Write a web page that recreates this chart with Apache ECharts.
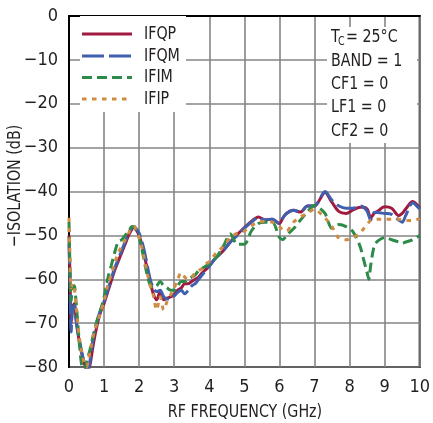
<!DOCTYPE html>
<html>
<head>
<meta charset="utf-8">
<script src="https://cdn.jsdelivr.net/npm/echarts@6/dist/echarts.min.js"></script>
<style>
html,body{margin:0;padding:0;background:#fff;}
#chart{width:433px;height:423px;}
</style>
</head>
<body>
<div id="chart"></div>
<script>
// ---- data ----
var freq = [0, 0.03, 0.06, 0.1, 0.15, 0.2, 0.25, 0.3, 0.35, 0.4, 0.45, 0.5, 0.55, 0.6, 0.7, 0.8, 0.9,
  1.0, 1.1, 1.2, 1.3, 1.4, 1.5, 1.6, 1.7, 1.8, 1.85, 1.9, 2.0, 2.1, 2.2, 2.3, 2.4, 2.5, 2.6, 2.7, 2.8, 2.9,
  3.0, 3.1, 3.2, 3.3, 3.4, 3.5, 3.6, 3.7, 3.8, 3.9, 4.0, 4.2, 4.4, 4.6, 4.8, 5.0, 5.2, 5.4, 5.6, 5.8,
  6.0, 6.1, 6.2, 6.4, 6.6, 6.8, 7.0, 7.1, 7.3, 7.5, 7.7, 7.9, 8.1, 8.3, 8.4, 8.5, 8.55, 8.6, 8.7, 8.8,
  9.0, 9.2, 9.4, 9.5, 9.6, 9.8, 10.0];

var ifqp = [-50, -60, -70, -66.5, -65.5, -69, -72, -74.5, -76.5, -78, -79.5, -80.5, -80.5, -79.5, -74.5, -70.5, -67.5,
  -65.5, -63, -60.5, -58, -56, -54, -52, -50, -48.5, -48.2, -48.5, -50, -53, -56.5, -60, -63.2, -64.7, -62.8, -64.7, -64.3, -64,
  -63.5, -62.5, -62, -61, -61, -60.5, -60, -59.5, -58.5, -57.8, -57, -55, -53.5, -51.5, -49.8, -48.2, -46.8, -45.8, -46.5, -46.3,
  -47.3, -46, -45, -44.3, -44.7, -43.3, -43.3, -42.5, -40.2, -42.5, -44.6, -45, -44.2, -43.6, -43.6, -44, -45, -46, -45, -44.5,
  -43.5, -43.8, -45.5, -45, -44, -42.3, -43.8];

var ifqm = [-52, -62, -72, -67, -66, -69, -72, -74, -76, -78, -79.5, -80.5, -80.5, -78.5, -73, -69.5, -67,
  -65, -62.5, -60, -57.5, -55.5, -53.5, -51.5, -49.5, -48.2, -48, -48.3, -49.5, -52, -55.5, -59.5, -62, -62.8, -62.5, -64, -64.5, -64.5,
  -63.8, -63, -62.5, -63.3, -62.5, -61.5, -61, -60, -59, -58, -57, -55, -53.5, -51.5, -50, -48.4, -47, -46, -46.5, -46.3,
  -47.3, -46, -45, -44.3, -44.7, -43.3, -43.3, -42.5, -40, -42, -43.3, -43.8, -43.8, -43.3, -43.6, -44.5, -45.5, -46.5, -44.8, -44.8,
  -45, -45.2, -46.5, -47, -45.5, -42.6, -44];

var ifim = [-47, -58, -65, -62, -61.5, -65, -70, -75, -79, -80.5, -80.5, -79, -77.5, -76, -72.5, -69.5, -67,
  -64, -60, -57, -54, -51.5, -51, -50, -49, -48, -48, -48.6, -50.5, -54, -58, -61, -62, -61.5, -60.5, -61.5, -62, -62.5,
  -62.5, -61.5, -60.5, -60.5, -60, -59.5, -59, -58, -57.5, -57, -56.5, -55, -52.5, -49.7, -52, -52, -49, -47.3, -47, -47,
  -50.5, -51, -50, -48.5, -46.5, -44.6, -43.2, -43.5, -45, -48.4, -47.5, -48, -49.2, -52.5, -55.5, -58.5, -60, -57, -52.5, -51.3,
  -50.5, -51, -51.5, -51.8, -51.5, -51, -50];

var ifip = [-46, -55, -62, -61, -62, -66, -70, -73.5, -76, -78, -79.5, -80, -78.5, -76.5, -72.5, -70, -67.5,
  -65, -61.5, -59, -56.5, -54, -52.5, -51, -49.5, -48, -48, -48.5, -50.5, -53.5, -57.5, -61, -63.5, -67, -64, -67, -65, -63.5,
  -62, -60, -58.5, -59.5, -60, -59.5, -58.5, -58, -57.5, -56.5, -56, -54, -52.5, -50.5, -49.5, -49, -47.8, -47, -46.8, -47,
  -48, -48.8, -49, -47, -45.8, -45, -44, -44.5, -46, -48, -50.7, -51, -50.5, -49.5, -48.5, -47.5, -47, -46.6, -46.4, -46.3,
  -46.3, -46.3, -46.3, -46.4, -46.6, -46.6, -46.2];

var seriesNames = ['IFQP', 'IFQM', 'IFIM', 'IFIP'];
var xTicks = [0, 1, 2, 3, 4, 5, 6, 7, 8, 9, 10];
var yTicks = [-80, -70, -60, -50, -40, -30, -20, -10, 0];
var notes = ['BAND = 1', 'CF1 = 0', 'LF1 = 0', 'CF2 = 0'];

// ---- styling ----
var FONT = "'Liberation Sans Narrow', 'DejaVu Sans Condensed', 'Arial Narrow', sans-serif";
var TXT = '#231f20';
var colors = ['#a01b40', '#3f5faf', '#2d8a48', '#d08c42'];
var dashes = [null, [20, 5], [10, 5], [4.5, 5.5]];
var legendDashes = [null, [22, 5], [10, 5], [4.5, 5.5]];
var values = [ifqp, ifqm, ifim, ifip];
var SX = 0.88; // narrow the available font towards the condensed original

function pairs(v) { return freq.map(function (f, i) { return [f, v[i]]; }); }
function fmtNum(v) { return v < 0 ? '\u2212' + Math.abs(v) : String(v); }

var chart = echarts.init(document.getElementById('chart'), null, { renderer: 'canvas' });

var series = seriesNames.map(function (name, k) {
  return {
    name: name,
    type: 'line',
    data: pairs(values[k]),
    showSymbol: false,
    symbol: 'none',
    smooth: 0.3,
    clip: true,
    lineStyle: { color: colors[k], width: 3, type: dashes[k] || 'solid' },
    itemStyle: { color: colors[k] },
    z: 2 + k
  };
});

function txt(x, y, s, size, extra) {
  var o = { type: 'text', x: x, y: y, scaleX: SX, z: 11,
    style: { text: s, font: size + 'px ' + FONT, fill: TXT, textVerticalAlign: 'middle' } };
  if (extra) { for (var k in extra) o[k] = extra[k]; }
  return o;
}

var g = [];
// annotation box
g.push({ type: 'rect', shape: { x: 327, y: 27, width: 90, height: 116 }, style: { fill: '#fff' }, z: 10 });
g.push(txt(331, 37, 'T', 18));
g.push(txt(338, 42, 'C', 12));
g.push(txt(346, 37, '= 25\u00B0C', 18));
var noteY = [61.5, 84, 107, 131];
notes.forEach(function (t, i) { g.push(txt(331, noteY[i], t, 18)); });
// legend (drawn)
g.push({ type: 'rect', shape: { x: 80, y: 16, width: 106, height: 96 }, style: { fill: '#fff' }, z: 10 });
var legY = [34, 56, 77.5, 99];
seriesNames.forEach(function (name, k) {
  g.push({ type: 'line', shape: { x1: 82, y1: legY[k], x2: 132, y2: legY[k] }, z: 11,
    style: { stroke: colors[k], lineWidth: 3, lineDash: legendDashes[k] } });
  g.push(txt(144, legY[k], name, 18));
});
// y axis name
g.push({ type: 'text', x: 15, y: 186, rotation: Math.PI / 2, scaleX: SX, z: 11,
  style: { text: '\u2212ISOLATION (dB)', font: '18px ' + FONT, fill: TXT, textAlign: 'center', textVerticalAlign: 'middle' } });
// x axis name
g.push({ type: 'text', x: 245, y: 412, scaleX: SX, z: 11,
  style: { text: 'RF FREQUENCY (GHz)', font: '18px ' + FONT, fill: TXT, textAlign: 'center', textVerticalAlign: 'middle' } });

chart.setOption({
  animation: false,
  backgroundColor: '#fff',
  textStyle: { fontFamily: FONT, color: TXT },
  grid: { left: 69, right: 12, top: 16, bottom: 56, show: true, borderColor: '#000', borderWidth: 2, backgroundColor: 'transparent' },
  xAxis: {
    type: 'value', min: xTicks[0], max: xTicks[xTicks.length - 1], interval: 1,
    axisLine: { show: true, lineStyle: { color: '#000', width: 2 } },
    axisTick: { show: false },
    axisLabel: { fontFamily: FONT, fontSize: 18, color: TXT, margin: 11 },
    splitLine: { show: true, lineStyle: { color: '#858585', width: 1.6 } }
  },
  yAxis: {
    type: 'value', min: yTicks[0], max: yTicks[yTicks.length - 1], interval: 10,
    axisLine: { show: true, lineStyle: { color: '#000', width: 2 } },
    axisTick: { show: false },
    axisLabel: { fontFamily: FONT, fontSize: 18, color: TXT, margin: 11, formatter: fmtNum },
    splitLine: { show: true, lineStyle: { color: '#858585', width: 1.6 } }
  },
  graphic: g,
  series: series
});
</script>
</body>
</html>
